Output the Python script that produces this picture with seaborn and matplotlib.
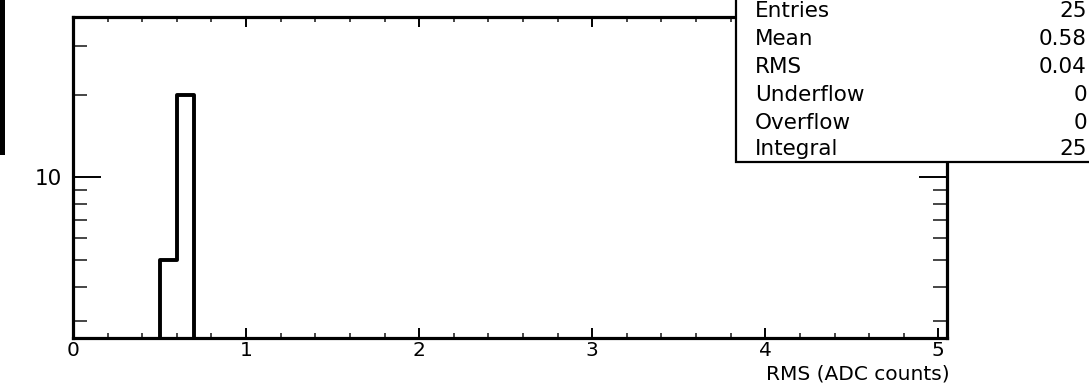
import numpy as np
import matplotlib.pyplot as plt
import seaborn as sns
from matplotlib.patches import Rectangle
from matplotlib.ticker import FixedLocator, MultipleLocator, NullFormatter, FixedFormatter

# histogram definition (ROOT TH1: 50 bins over 0..5) and the filled bins
N_BINS = 50
X_RANGE = (0.0, 5.0)
rms_bin_centers = [0.55, 0.65]
rms_bin_counts = [5, 20]

# stats box
stat_names = ["Entries", "Mean", "RMS", "Underflow", "Overflow", "Integral"]
stat_values = ["25", "0.58", "0.04", "0", "0", "25"]

x_ticks = [0, 1, 2, 3, 4, 5]
x_tick_labels = ["0", "1", "2", "3", "4", "5"]
y_major_ticks = [10]
y_major_labels = ["10"]
y_minor_ticks = [3, 4, 5, 6, 7, 8, 9, 20, 30]

W, H = 1089, 383
FONT = ["DejaVu Sans"]
FS = 15.5
FS_AX = 14.5

sns.set_theme(style="white")
plt.rcParams["font.family"] = FONT

fig = plt.figure(figsize=(W / 100, H / 100), dpi=100)
fig.patch.set_facecolor("white")

# axes frame in pixels: left 73, right 947, top 17, bottom 338
ax = fig.add_axes([73 / W, (H - 338) / H, (947 - 73) / W, (338 - 17) / H])
ax.set_facecolor("white")

sns.histplot(x=rms_bin_centers, weights=rms_bin_counts, bins=N_BINS, binrange=X_RANGE,
             element="step", fill=False, color="black", linewidth=2.8, ax=ax)

ax.set_yscale("log")
ax.set_ylim(2.6, 38.3)
ax.set_xlim(0, 5.05)

ax.xaxis.set_major_locator(FixedLocator(x_ticks))
ax.xaxis.set_major_formatter(FixedFormatter(x_tick_labels))
ax.xaxis.set_minor_locator(MultipleLocator(0.2))
ax.yaxis.set_major_locator(FixedLocator(y_major_ticks))
ax.yaxis.set_major_formatter(FixedFormatter(y_major_labels))
ax.yaxis.set_minor_locator(FixedLocator(y_minor_ticks))
ax.yaxis.set_minor_formatter(NullFormatter())

ax.tick_params(axis="x", which="major", direction="in", length=7, width=1.4,
               top=True, bottom=True, labelsize=FS_AX, pad=2, colors="black")
ax.tick_params(axis="x", which="minor", direction="in", length=3.5, width=1.2,
               top=True, bottom=True)
ax.tick_params(axis="y", which="major", direction="in", length=20, width=1.4,
               left=True, right=True, labelsize=FS, pad=8, colors="black")
ax.tick_params(axis="y", which="minor", direction="in", length=10, width=1.2,
               left=True, right=True)

for sp in ax.spines.values():
    sp.set_visible(True)
    sp.set_color("black")
    sp.set_linewidth(2.3)

ax.set_ylabel("")
ax.set_xlabel("RMS (ADC counts)", fontsize=FS_AX, ha="right", va="baseline", color="black")
ax.xaxis.set_label_coords((950 - 73) / (947 - 73), -(380 - 338) / (338 - 17))

# piece of the neighbouring pad frame on the far left
fig.add_artist(Rectangle((0, (H - 155) / H), 5 / W, 155 / H, transform=fig.transFigure,
                         facecolor="black", edgecolor="none", zorder=5))

# stats box, cut by the top and right edges of the picture
fig.add_artist(Rectangle((736 / W, (H - 162) / H), 1, 1, transform=fig.transFigure,
                         facecolor="white", edgecolor="black", linewidth=1.6, zorder=5))
baselines = [17, 45, 73, 101, 129, 155]
for name, val, yb in zip(stat_names, stat_values, baselines):
    fig.text(755 / W, (H - yb) / H, name, ha="left", va="baseline", fontsize=FS,
             color="black", zorder=6)
    fig.text(1087 / W, (H - yb) / H, val, ha="right", va="baseline", fontsize=FS,
             color="black", zorder=6)

fig.savefig("out.png", dpi=100, facecolor="white")
